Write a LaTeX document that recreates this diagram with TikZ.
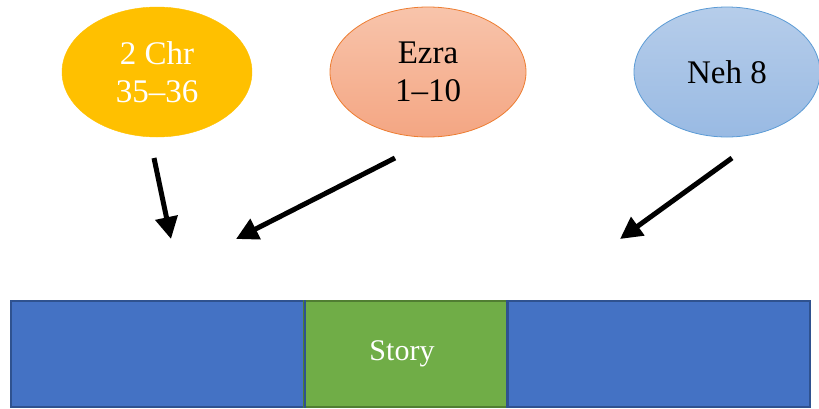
\documentclass[tikz,border=0pt]{standalone}
\usepackage{fontspec}
\setmainfont{Liberation Serif}
\usetikzlibrary{shapes.geometric,arrows.meta}

\definecolor{gold}{HTML}{FFC000}
\definecolor{salmonTop}{RGB}{248,196,171}
\definecolor{salmonBot}{RGB}{244,166,131}
\definecolor{salmonLine}{HTML}{ED7D31}
\definecolor{skyTop}{RGB}{182,205,234}
\definecolor{skyBot}{RGB}{153,186,227}
\definecolor{skyLine}{HTML}{5B9BD5}
\definecolor{barBlue}{HTML}{4472C4}
\definecolor{barBlueLine}{HTML}{2F528F}
\definecolor{barGreen}{HTML}{70AD47}
\definecolor{barGreenLine}{HTML}{507E32}

\tikzset{
  book/.style={ellipse, inner sep=0pt, minimum width=190pt, minimum height=130pt,
    align=center, font=\fontsize{33}{38}\selectfont},
  bar/.style={rectangle, inner sep=0pt, line width=2pt, minimum height=106pt,
    anchor=west, font=\fontsize{30}{34}\selectfont},
  pointer/.style={line width=5pt, -{Triangle[length=22pt,width=22pt]}}
}

\begin{document}
\begin{tikzpicture}[x=1pt,y=-1pt]
  \useasboundingbox (0,0) rectangle (819,408);

  % sources
  \node[book, fill=gold, draw=gold, text=white] (chr) at (157,72) {2 Chr\\35--36};
  \node[book, minimum width=196pt, top color=salmonTop, bottom color=salmonBot,
        draw=salmonLine, line width=0.8pt] (ezra) at (428,72) {Ezra\\1--10};
  \node[book, minimum width=186pt, top color=skyTop, bottom color=skyBot,
        draw=skyLine, line width=0.8pt] (neh) at (727,72) {Neh 8};

  % timeline bar
  \node[bar, fill=barBlue, draw=barBlueLine, minimum width=293pt] (pre) at (10,354) {};
  \node[bar, fill=barGreen, draw=barGreenLine, minimum width=204pt] (story) at (303,354) {};
  \node[bar, fill=barBlue, draw=barBlueLine, minimum width=302pt] (post) at (507,354) {};
  \draw[barBlueLine, line width=2pt] (pre.north east) -- (pre.south east);
  \draw[barBlueLine, line width=2pt] (post.north west) -- (post.south west);
  \node[text=white, font=\fontsize{30}{34}\selectfont] (storyLabel) at ([xshift=-4pt]story.center) {Story};

  % arrow ends
  \coordinate (chrFrom) at (154,158);
  \coordinate (chrTo) at (171,239);
  \coordinate (ezraFrom) at (395,158);
  \coordinate (ezraTo) at (236,239);
  \coordinate (nehFrom) at (732,158);
  \coordinate (nehTo) at (620,239);

  \draw[pointer] (chrFrom) -- (chrTo);
  \draw[pointer] (ezraFrom) -- (ezraTo);
  \draw[pointer] (nehFrom) -- (nehTo);
\end{tikzpicture}
\end{document}
